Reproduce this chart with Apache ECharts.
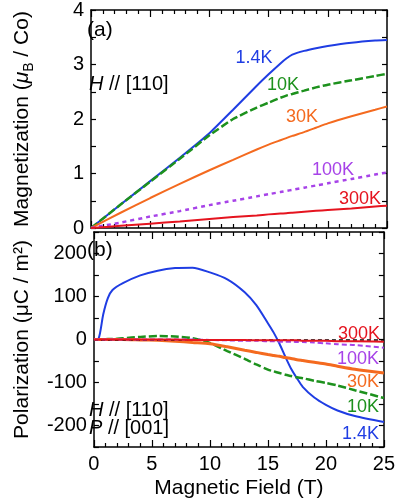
<!DOCTYPE html>
<html lang="en">
    <head>
        <meta charset="utf-8">
        <title>Magnetization and polarization</title>
        <style>
            html, body { margin: 0; padding: 0; background: #fff; }
            #chart { width: 398px; height: 500px; }
        </style>
    </head>
    <body>
        <div id="chart"></div>
        <script src="https://cdn.jsdelivr.net/npm/echarts@6/dist/echarts.min.js"></script>
        <script type="text/javascript">
            // panel (a): magnetization (muB / Co) vs field (T)
            var fieldA = [0, 2.5, 5, 7.5, 10, 12, 14, 15, 16, 16.5, 17, 18, 19, 20, 22, 24, 25];
            var magK1p4 = [0, 0.43, 0.86, 1.29, 1.74, 2.17, 2.61, 2.82, 3.02, 3.11, 3.18, 3.25, 3.3, 3.34, 3.4, 3.44, 3.45];
            var magK10  = [0, 0.43, 0.85, 1.27, 1.7, 2.0, 2.21, 2.3, 2.39, 2.43, 2.46, 2.52, 2.58, 2.63, 2.71, 2.79, 2.83];
            var magK30  = [0, 0.28, 0.55, 0.81, 1.06, 1.25, 1.44, 1.53, 1.61, 1.65, 1.69, 1.76, 1.84, 1.92, 2.05, 2.17, 2.23];
            var magK100 = [0, 0.1, 0.21, 0.31, 0.42, 0.5, 0.58, 0.62, 0.66, 0.68, 0.7, 0.74, 0.78, 0.82, 0.9, 0.98, 1.02];
            var magK300 = [0, 0.04, 0.08, 0.12, 0.165, 0.2, 0.23, 0.25, 0.265, 0.27, 0.28, 0.3, 0.315, 0.33, 0.36, 0.395, 0.41];

            // panel (b): polarization (uC / m2) vs field (T)
            var fieldB = [0, 0.4, 0.8, 1.2, 1.6, 2.5, 4, 5.5, 7, 8.5, 10, 11.5, 13, 14, 15, 15.5, 16, 16.5, 17, 17.5, 18, 19, 20, 21, 22.5, 25];
            var polK1p4 = [0, 2, 58, 96, 115, 131, 149, 160, 166, 167, 156, 140, 110, 80, 38, 16, -10, -40, -68, -90, -110, -135, -152, -165, -178, -192];
            var polK10  = [0, 0, 0, 1, 1, 3, 6, 8, 7, 3, -8, -27, -45, -58, -70, -74, -78, -82, -85, -88, -90, -96, -101, -107, -118, -136];
            var polK30  = [0, 0, 0, 0, 0, 0, -1, -2, -4, -7, -10, -17, -25, -30, -35, -37, -39, -42, -44, -47, -49, -53, -57, -62, -69, -78];
            var polK100 = [0, 0, 0, 0, 0, 0, 0, 0, 0, 0, -1, -2, -3, -3, -4, -4, -5, -5, -5, -6, -6, -7, -9, -11, -13, -19];
            var polK300 = [0, 0, 0, 0, 0, 0, 0, 0, 0, -1, -1, -1, -1, -2, -2, -2, -2, -2, -2, -2, -3, -3, -3, -4, -4, -5];

            var temps = ['1.4K', '10K', '30K', '100K', '300K'];
            var colors = ['#1f3de3', '#1d911d', '#f46a1f', '#a743e8', '#e5141f'];

            var font = 'Liberation Sans, Arial, Helvetica, sans-serif';

            function pairs(xs, ys) {
                var out = [];
                for (var i = 0; i < xs.length; i++) {
                    out.push([xs[i], ys[i]]);
                }
                return out;
            }

            function xAx(grid, pos, labels) {
                return {
                    type: 'value', gridIndex: grid, position: pos,
                    min: 0, max: 25, interval: 5,
                    axisLine: { show: true, onZero: false, lineStyle: { color: '#000', width: 1.5 } },
                    axisTick: { show: true, inside: true, length: 7, lineStyle: { color: '#000', width: 1.2 } },
                    minorTick: { show: true, splitNumber: 5, length: 4, lineStyle: { color: '#000', width: 1.2 } },
                    splitLine: { show: false },
                    axisLabel: { show: labels, margin: 7, color: '#000', fontSize: 20, fontFamily: font },
                    name: labels ? 'Magnetic Field (T)' : '',
                    nameLocation: 'middle', nameGap: 31,
                    nameTextStyle: { color: '#000', fontSize: 21, fontFamily: font }
                };
            }

            function yAx(grid, pos, min, max, step, major, name) {
                return {
                    type: 'value', gridIndex: grid, position: pos,
                    min: min, max: max, interval: step,
                    axisLine: { show: true, onZero: false, lineStyle: { color: '#000', width: 1.5 } },
                    axisTick: { show: true, inside: true, length: 5, lineStyle: { color: '#000', width: 1.2 } },
                    splitLine: { show: false },
                    axisLabel: {
                        show: pos === 'left', margin: 7, color: '#000', fontSize: 20, fontFamily: font,
                        formatter: function (v) {
                            return Math.abs(v % major) < 1e-9 ? String(v) : '';
                        }
                    },
                    name: pos === 'left' ? name : '',
                    nameLocation: 'middle', nameGap: 55,
                    nameTextStyle: {
                        color: '#000', fontSize: 21, fontFamily: font, lineHeight: 28,
                        rich: {
                            t: { fontSize: 21, fontFamily: font, color: '#000', lineHeight: 28 },
                            i: { fontSize: 21, fontFamily: font, color: '#000', fontStyle: 'italic', lineHeight: 28 },
                            s: { fontSize: 14, fontFamily: font, color: '#000', lineHeight: 13, verticalAlign: 'bottom' }
                        }
                    }
                };
            }

            var series = [];
            var magSets = [magK1p4, magK10, magK30, magK100, magK300];
            var polSets = [polK1p4, polK10, polK30, polK100, polK300];
            var dashA = ['solid', [8, 3], 'solid', [4, 4], 'solid'];
            var dashB = ['solid', [8, 3], 'solid', [5, 3], 'solid'];
            var widthA = [2, 2.5, 2, 2.5, 2];
            var widthB = [2, 2.5, 3, 2, 2];

            // zero reference in (b)
            series.push({
                type: 'line', xAxisIndex: 2, yAxisIndex: 2, data: [], z: 1,
                markLine: {
                    silent: true, symbol: 'none', label: { show: false },
                    lineStyle: { color: '#000', type: [4, 3], width: 1.5 },
                    data: [{ yAxis: 0 }]
                }
            });

            for (var k = 0; k < temps.length; k++) {
                series.push({
                    name: temps[k] + ' M', type: 'line', xAxisIndex: 0, yAxisIndex: 0,
                    data: pairs(fieldA, magSets[k]), showSymbol: false,
                    smooth: 0.15, z: 2 + k,
                    lineStyle: { color: colors[k], width: widthA[k], type: dashA[k] }
                });
                series.push({
                    name: temps[k] + ' P', type: 'line', xAxisIndex: 2, yAxisIndex: 2,
                    data: pairs(fieldB, polSets[k]), showSymbol: false,
                    smooth: 0.25, z: 2 + k,
                    lineStyle: { color: colors[k], width: widthB[k], type: dashB[k] }
                });
            }

            function txt(x, y, s, color, align, size) {
                size = size || 18;
                return {
                    type: 'text', x: x, y: y, z: 100,
                    style: {
                        text: s, fill: color, fontSize: size, fontFamily: font,
                        align: align || 'center', verticalAlign: 'middle',
                        rich: {
                            i: { fontStyle: 'italic', fontSize: size, fontFamily: font, fill: color }
                        }
                    }
                };
            }

            var graphics = [
                txt(87, 30, '(a)', '#000', 'left', 21),
                txt(89, 84, '{i|H} // [110]', '#000', 'left', 20),
                txt(254, 58, temps[0], colors[0]),
                txt(283, 85, temps[1], colors[1]),
                txt(302, 117, temps[2], colors[2]),
                txt(333, 170, temps[3], colors[3]),
                txt(360, 199, temps[4], colors[4]),
                txt(87, 250, '(b)', '#000', 'left', 21),
                txt(89, 410, '{i|H} // [110]', '#000', 'left', 20),
                txt(89, 428, '{i|P} // [001]', '#000', 'left', 20),
                txt(380, 334, temps[4], colors[4], 'right'),
                txt(379, 359, temps[3], colors[3], 'right'),
                txt(379, 382, temps[2], colors[2], 'right'),
                txt(379, 407, temps[1], colors[1], 'right'),
                txt(379, 434, temps[0], colors[0], 'right')
            ];

            var chart = echarts.init(document.getElementById('chart'));
            chart.setOption({
                animation: false,
                backgroundColor: '#fff',
                grid: [
                    { left: 80, right: 11, top: 9, height: 219 },
                    { left: 80, right: 11, top: 232, height: 218 }
                ],
                xAxis: [xAx(0, 'bottom', false), xAx(0, 'top', false), xAx(1, 'bottom', true), xAx(1, 'top', false)],
                yAxis: [
                    yAx(0, 'left', 0, 4, 0.5, 1, '{t|Magnetization (}{i|μ}{s|B}{t| / Co)}'),
                    yAx(0, 'right', 0, 4, 0.5, 1, ''),
                    yAx(1, 'left', -250, 250, 50, 100, '{t|Polarization (μC / m²)}'),
                    yAx(1, 'right', -250, 250, 50, 100, '')
                ],
                series: series,
                graphic: graphics
            });
        </script>
    </body>
</html>
